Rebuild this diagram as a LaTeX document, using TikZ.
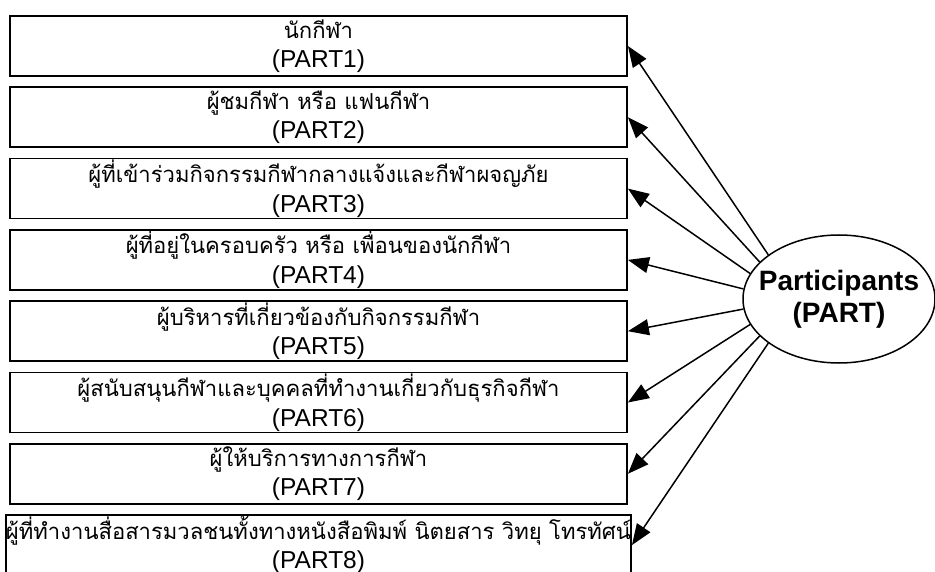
\documentclass[tikz,border=0pt]{standalone}
\usepackage{fontspec}
\setmainfont{Liberation Sans}
\newfontfamily\thaifont[Script=Thai,Scale=0.9]{Loma}
\usetikzlibrary{arrows.meta,shapes.geometric}
\begin{document}
\begin{tikzpicture}[x=1pt,y=-1pt]
\tikzset{cadre/.style={draw, line width=1.8pt, minimum width=617pt, minimum height=60pt, inner sep=0pt, align=center, font=\fontsize{24.5}{29.5}\selectfont, execute at begin node=\rule{0pt}{28pt}}}
\tikzset{ovale/.style={draw, ellipse, line width=1.5pt, minimum width=192pt, minimum height=128pt, inner xsep=-14pt, inner ysep=0pt, align=center, font=\bfseries\fontsize{28}{32}\selectfont}}
\tikzset{fleche/.style={-{Triangle[length=21pt,width=16pt]}, line width=1.5pt}}
\useasboundingbox (0,0) rectangle (935,572);
\clip (0,0) rectangle (935,572);
\node[cadre] (P1) at (318.5,46) {{\thaifont นักกีฬา}\\(PART1)};
\node[cadre] (P2) at (318.5,117.3) {{\thaifont ผู้ชมกีฬา หรือ แฟนกีฬา}\\(PART2)};
\node[cadre] (P3) at (318.5,188.6) {{\thaifont ผู้ที่เข้าร่วมกิจกรรมกีฬากลางแจ้งและกีฬาผจญภัย}\\(PART3)};
\node[cadre] (P4) at (318.5,259.9) {{\thaifont ผู้ที่อยู่ในครอบครัว หรือ เพื่อนของนักกีฬา}\\(PART4)};
\node[cadre] (P5) at (318.5,331.2) {{\thaifont ผู้บริหารที่เกี่ยวข้องกับกิจกรรมกีฬา}\\(PART5)};
\node[cadre] (P6) at (318.5,402.5) {{\thaifont ผู้สนับสนุนกีฬาและบุคคลที่ทำงานเกี่ยวกับธุรกิจกีฬา}\\(PART6)};
\node[cadre] (P7) at (318.5,473.8) {{\thaifont ผู้ให้บริการทางการกีฬา}\\(PART7)};
\node[cadre] (P8) at (318.5,545.1) {{\thaifont ผู้ที่ทำงานสื่อสารมวลชนทั้งทางหนังสือพิมพ์ นิตยสาร วิทยุ โทรทัศน์}\\(PART8)};
\node[ovale] (PART) at (839,299) {Participants\\(PART)};
\draw[fleche] (PART.148) -- (P1.east);
\draw[fleche] (PART.155) -- (P2.east);
\draw[fleche] (PART.164) -- (P3.east);
\draw[fleche] (PART.174) -- (P4.east);
\draw[fleche] (PART.186) -- (P5.east);
\draw[fleche] (PART.196) -- (P6.east);
\draw[fleche] (PART.205) -- (P7.east);
\draw[fleche] (PART.212) -- (P8.east);
\end{tikzpicture}
\end{document}
